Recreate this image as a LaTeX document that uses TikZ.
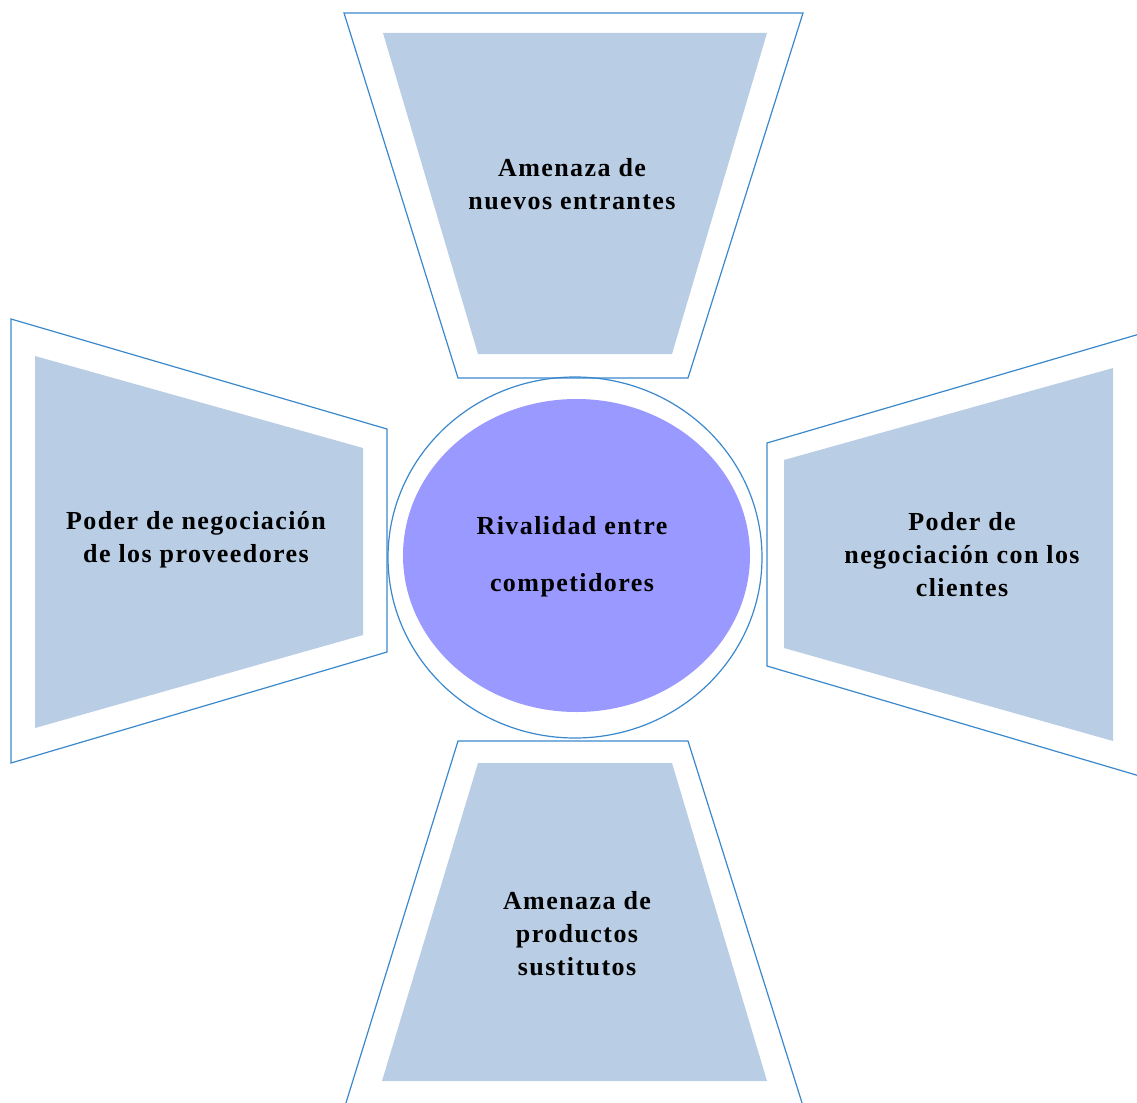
\documentclass[tikz,border=0pt]{standalone}
\usepackage{fontspec}
\setmainfont{Liberation Serif}
\newfontfamily\wideserif[LetterSpace=5.5]{Liberation Serif}
\definecolor{edgeblue}{RGB}{58,136,204}
\definecolor{boxblue}{RGB}{185,205,229}
\definecolor{coreviolet}{RGB}{153,153,255}

\begin{document}
\begin{tikzpicture}[x=0.75pt, y=-0.75pt,
    frame/.style={draw=edgeblue, line width=0.9pt, line join=miter},
    panel/.style={fill=boxblue},
    lbl/.style={align=center, font=\wideserif\bfseries\fontsize{19.5}{24.8}\selectfont}]
			\useasboundingbox (0,0) rectangle (1137,1102);
			% top: new entrants
			\draw [frame] (344,13) -- (803,13) -- (688,378) -- (458,378) -- cycle;
			\fill [panel] (383,33) -- (767,33) -- (672,354) -- (478,354) -- cycle;
			\node[lbl] (entrantes) at (572,184) {Amenaza de\\nuevos entrantes};
			% left: suppliers
			\draw [frame] (11,319) -- (387,429) -- (387,652) -- (11,763) -- cycle;
			\fill [panel] (35,356) -- (363,448) -- (363,635) -- (35,728) -- cycle;
			\node[lbl] (proveedores) at (196,540) {Poder de negociación\\de los proveedores};
			% right: customers
			\draw [frame] (1143,333) -- (767,443) -- (767,666) -- (1143,777);
			\fill [panel] (784,460) -- (1113,368) -- (1113,741) -- (784,648) -- cycle;
			\node[lbl] (clientes) at (962,555) {Poder de\\negociación con los\\clientes};
			% bottom: substitutes
			\draw [frame] (345,1106) -- (458,741) -- (688,741) -- (803,1106);
			\fill [panel] (478,763) -- (672,763) -- (767,1081) -- (382,1081) -- cycle;
			\node[lbl] (sustitutos) at (577,934) {Amenaza de\\productos\\sustitutos};
			% centre: rivalry
			\draw [frame] (575,557.5) ellipse [x radius=187, y radius=180.5];
			\fill [coreviolet] (576.5,555.5) ellipse [x radius=173.5, y radius=156.5];
			\node[lbl, font=\wideserif\bfseries\fontsize{19.5}{42.8}\selectfont] (rivalidad) at (572,557) {Rivalidad entre\\competidores};
\end{tikzpicture}
\end{document}
